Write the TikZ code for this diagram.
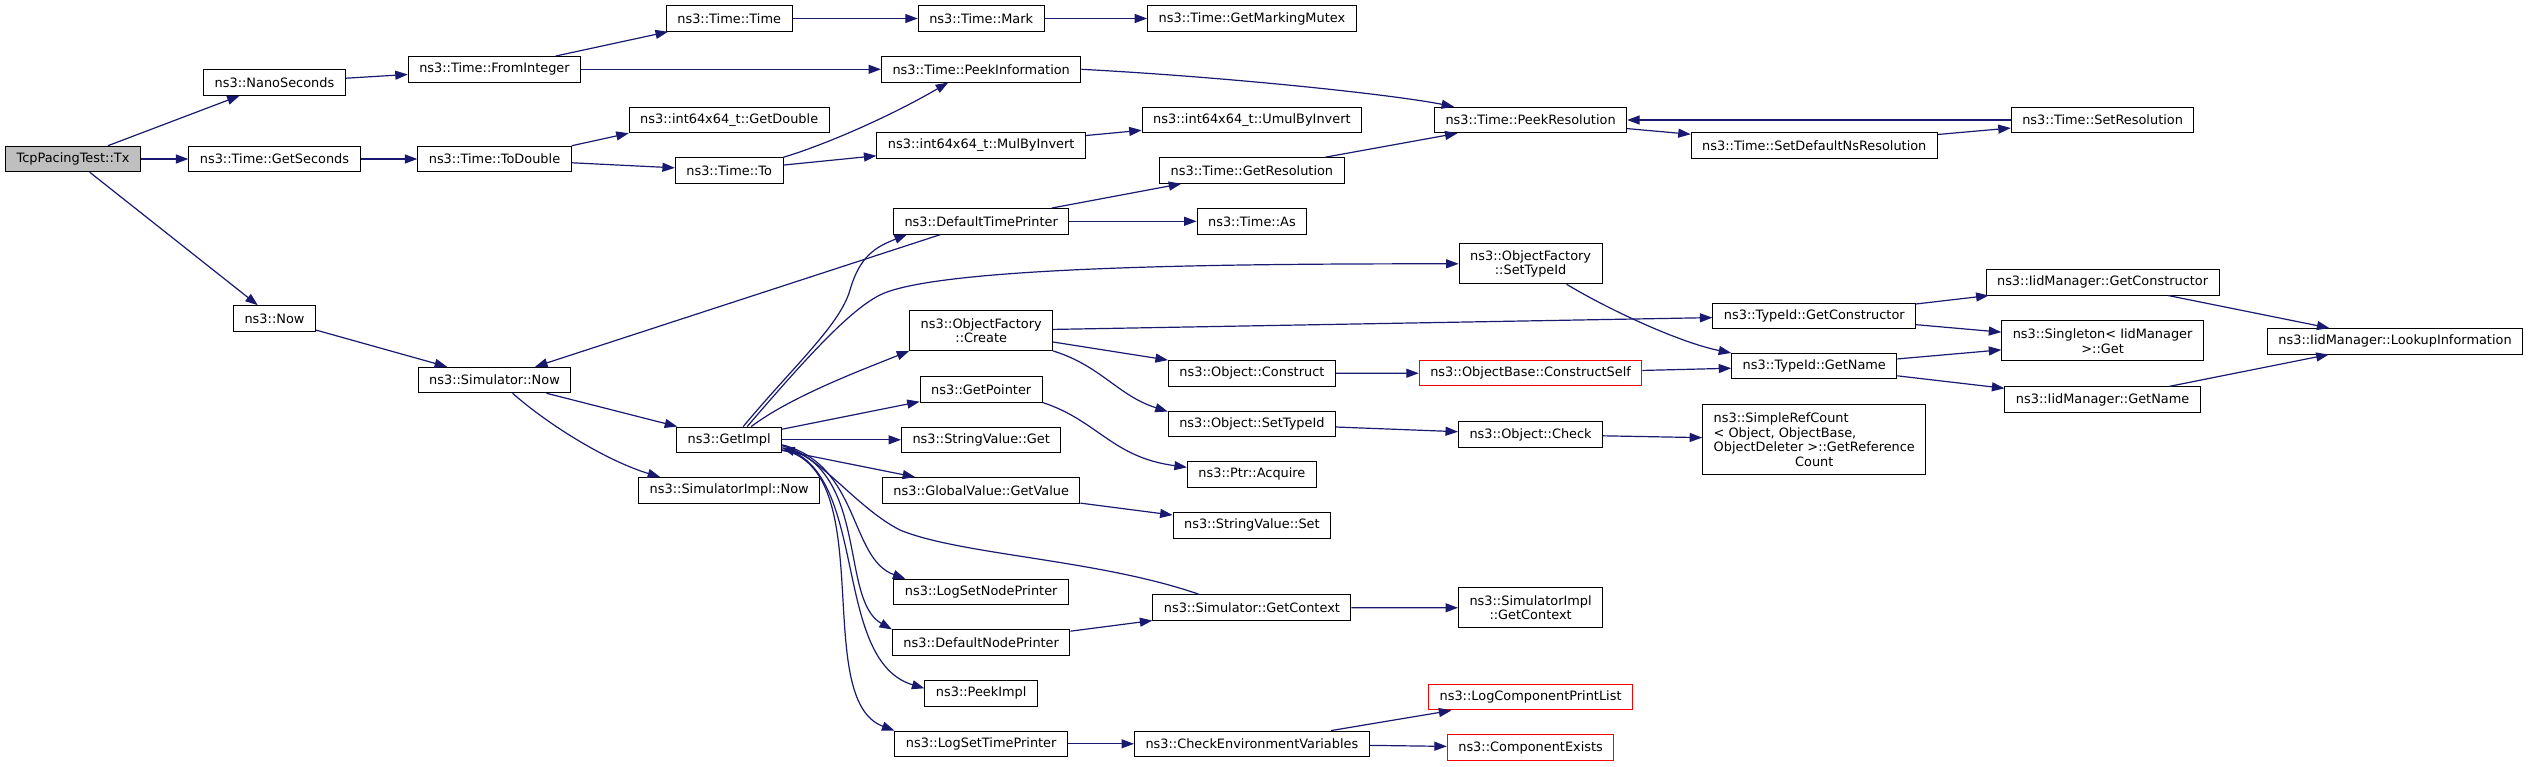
\documentclass[tikz,border=0pt]{standalone}
\usepackage{fontspec}
\setmainfont{DejaVu Sans}
\usepackage{tikz}
\usetikzlibrary{arrows.meta,calc}
\definecolor{edgeblue}{HTML}{191970}
\newlength\refw

\begin{document}
\settowidth{\refw}{\fontsize{12.9}{14.5}\selectfont ObjectDeleter >::GetReference}%
\begin{tikzpicture}[x=1pt, y=-1pt,
		fn/.style={draw=black, fill=white, line width=1pt, minimum height=25.5pt,
			inner xsep=11pt, inner ysep=2pt, align=center,
			font=\fontsize{12.9}{14.5}\selectfont},
		call/.style={draw=edgeblue, line width=1.2pt, -{Triangle[length=12.5pt,width=9pt]}}]
			\path[use as bounding box, fill=white] (0,0) rectangle (2528,767);

			% root and first calls
			\node[fn, fill=black!25] (tx) at (73,159) {TcpPacingTest::Tx};
			\node[fn] (nano) at (274.5,82.5) {ns3::NanoSeconds};
			\node[fn] (getsec) at (274.5,159) {ns3::Time::GetSeconds};
			\node[fn] (now) at (274.5,318.5) {ns3::Now};

			\node[fn] (fromint) at (494.5,69.3) {ns3::Time::FromInteger};
			\node[fn] (todouble) at (494.5,159) {ns3::Time::ToDouble};
			\node[fn] (simnow) at (494.5,380) {ns3::Simulator::Now};

			\node[fn] (timetime) at (729.2,18.5) {ns3::Time::Time};
			\node[fn] (getdouble) at (729.2,120) {ns3::int64x64\_t::GetDouble};
			\node[fn] (timeto) at (729.2,170.5) {ns3::Time::To};
			\node[fn] (getimpl) at (729.2,439.8) {ns3::GetImpl};
			\node[fn] (simimplnow) at (729.2,490.3) {ns3::SimulatorImpl::Now};

			% middle columns
			\node[fn] (mark) at (981.2,18.5) {ns3::Time::Mark};
			\node[fn] (peekinfo) at (981.2,69.3) {ns3::Time::PeekInformation};
			\node[fn] (mulbyinv) at (981.2,145.3) {ns3::int64x64\_t::MulByInvert};
			\node[fn] (dtp) at (981.2,221.3) {ns3::DefaultTimePrinter};
			\node[fn, minimum height=39.5pt] (ofcreate) at (981.2,330.7) {ns3::ObjectFactory\\::Create};
			\node[fn] (getpointer) at (981.2,389.3) {ns3::GetPointer};
			\node[fn] (svget) at (981.2,439.8) {ns3::StringValue::Get};
			\node[fn] (gvgetvalue) at (981.2,490.3) {ns3::GlobalValue::GetValue};
			\node[fn] (logsetnode) at (981.2,592) {ns3::LogSetNodePrinter};
			\node[fn] (defnode) at (981.2,642.7) {ns3::DefaultNodePrinter};
			\node[fn] (peekimpl) at (981.2,693.3) {ns3::PeekImpl};
			\node[fn] (logsettime) at (981.2,743.8) {ns3::LogSetTimePrinter};

			\node[fn] (mutex) at (1251.9,18.5) {ns3::Time::GetMarkingMutex};
			\node[fn] (umul) at (1251.9,120) {ns3::int64x64\_t::UmulByInvert};
			\node[fn] (getres) at (1251.9,170.5) {ns3::Time::GetResolution};
			\node[fn] (timeas) at (1251.9,221.3) {ns3::Time::As};
			\node[fn] (construct) at (1251.9,373.3) {ns3::Object::Construct};
			\node[fn] (objsettid) at (1251.9,423.8) {ns3::Object::SetTypeId};
			\node[fn] (ptracquire) at (1251.9,474.3) {ns3::Ptr::Acquire};
			\node[fn] (svset) at (1251.9,525.3) {ns3::StringValue::Set};
			\node[fn] (simgetctx) at (1251.9,607.7) {ns3::Simulator::GetContext};
			\node[fn] (checkenv) at (1251.9,743.8) {ns3::CheckEnvironmentVariables};

			\node[fn] (peekres) at (1530.6,120) {ns3::Time::PeekResolution};
			\node[fn, minimum height=40pt] (ofsettid) at (1530.6,263.8) {ns3::ObjectFactory\\::SetTypeId};
			\node[fn, draw=red] (cself) at (1530.6,373.2) {ns3::ObjectBase::ConstructSelf};
			\node[fn] (objcheck) at (1530.6,434.5) {ns3::Object::Check};
			\node[fn, minimum height=40pt] (simimplctx) at (1530.6,607.8) {ns3::SimulatorImpl\\::GetContext};
			\node[fn, draw=red] (logcomp) at (1530.6,697.2) {ns3::LogComponentPrintList};
			\node[fn, draw=red] (compexists) at (1530.6,747.5) {ns3::ComponentExists};

			% right columns
			\node[fn] (setdefns) at (1814.3,145.3) {ns3::Time::SetDefaultNsResolution};
			\node[fn] (tidgetctor) at (1814.3,315.8) {ns3::TypeId::GetConstructor};
			\node[fn] (tidgetname) at (1814.3,366.2) {ns3::TypeId::GetName};
			\node[fn, minimum height=70pt] (simpleref) at (1814.3,439.7)
				{\makebox[\refw][l]{ns3::SimpleRefCount}\\\makebox[\refw][l]{< Object, ObjectBase,}\\ObjectDeleter >::GetReference\\Count};

			\node[fn] (setres) at (2102.6,120) {ns3::Time::SetResolution};
			\node[fn] (iidgetctor) at (2102.6,282.3) {ns3::IidManager::GetConstructor};
			\node[fn, minimum height=40pt] (singleton) at (2102.6,341) {ns3::Singleton< IidManager\\ >::Get};
			\node[fn] (iidgetname) at (2102.6,399.7) {ns3::IidManager::GetName};
			\node[fn] (lookup) at (2395,341.3) {ns3::IidManager::LookupInformation};

			% calls from the root
			\draw[call] (tx) -- (nano);
			\draw[call] (tx) -- (getsec);
			\draw[call] (tx) -- (now);

			% time calls
			\draw[call] (nano) -- (fromint);
			\draw[call] (fromint) -- (timetime);
			\draw[call] (fromint) -- (peekinfo);
			\draw[call] (timetime) -- (mark);
			\draw[call] (mark) -- (mutex);
			\draw[call] (peekinfo.east) .. controls +(150,8) and +(-60,-12) .. ($(peekres.north west)+(20,0)$);
			\draw[call] (getsec) -- (todouble);
			\draw[call] (todouble.north east) -- (getdouble.south west);
			\draw[call] (todouble) -- (timeto);
			\draw[call] (timeto.north east) .. controls +(40,-12) and +(-60,35) .. ($(peekinfo.south)+(-33,0)$);
			\draw[call] (timeto) -- (mulbyinv);
			\draw[call] (mulbyinv) -- (umul);
			\draw[call] (getres) -- (peekres);
			\draw[call] (peekres) -- (setdefns);
			\draw[call] (setdefns) -- (setres);
			\draw[call] (setres) -- (peekres);

			% simulator calls
			\draw[call] (now) -- (simnow);
			\draw[call] (simnow) -- (getimpl);
			\draw[call] ($(simnow.south)+(18,0)$) .. controls +(40,35) and +(-50,-15) .. ($(simimplnow.north west)+(22,0)$);
			\draw[call] (dtp) -- (simnow);
			\draw[call] (dtp) -- (getres);
			\draw[call] (dtp) -- (timeas);

			% calls out of GetImpl
			\draw[call] ($(getimpl.north)+(14,0)$) .. controls +(50,-60) and +(-10,35) .. (850,290)
				.. controls +(10,-35) and +(-30,12) .. ($(dtp.south west)+(14,0)$);
			\draw[call] ($(getimpl.north)+(18,0)$) .. controls +(60,-70) and +(-30,15) .. (880,295)
				.. controls +(60,-30) and +(-200,0) .. (ofsettid.west);
			\draw[call] ($(getimpl.north)+(22,0)$) .. controls +(40,-30) and +(-50,20) .. (ofcreate.south west);
			\draw[call] (getimpl) -- (getpointer);
			\draw[call] (getimpl) -- (svget);
			\draw[call] (getimpl) -- (gvgetvalue);
			\draw[call] ($(getimpl.east)+(0,5)$) .. controls +(78,20) and +(-56,-20) .. ($(logsetnode.north west)+(12,0)$);
			\draw[call] ($(getimpl.east)+(0,6)$) .. controls +(88,24) and +(-53,-30) .. (defnode.north west);
			\draw[call] ($(getimpl.east)+(0,8)$) .. controls +(88,22) and +(-94,-28) .. ($(peekimpl.west)+(0,-5)$);
			\draw[call] ($(getimpl.east)+(0,10)$) .. controls +(98,20) and +(-84,-31) .. (logsettime.north west);
			\draw[call] ($(simgetctx.north west)+(47,0)$) .. controls +(-100,-35) and +(60,25) .. (900,530)
				.. controls +(-40,-20) and +(40,12) .. ($(getimpl.east)+(0,8)$);

			% object factory calls
			\draw[call] (ofcreate) -- (tidgetctor);
			\draw[call] (ofcreate) -- (construct);
			\draw[call] (ofcreate.south east) .. controls +(48,15) and +(-50,-16) .. ($(objsettid.north west)+(0,1)$);
			\draw[call] ($(ofsettid.south)+(36,0)$) .. controls +(45,27) and +(-50,-10) .. (tidgetname.north west);
			\draw[call] (construct) -- (cself);
			\draw[call] (cself) -- (tidgetname);
			\draw[call] (tidgetctor) -- (iidgetctor);
			\draw[call] (tidgetctor) -- (singleton);
			\draw[call] (tidgetname) -- (singleton);
			\draw[call] (tidgetname) -- (iidgetname);
			\draw[call] (iidgetctor) -- (lookup);
			\draw[call] (iidgetname) -- (lookup);
			\draw[call] (objsettid) -- (objcheck);
			\draw[call] (objcheck) -- (simpleref);

			% remaining calls
			\draw[call] (getpointer.south east) .. controls +(55,18) and +(-75,-10) .. ($(ptracquire.west)+(0,-7)$);
			\draw[call] (gvgetvalue) -- (svset);
			\draw[call] (defnode) -- (simgetctx);
			\draw[call] (simgetctx) -- (simimplctx);
			\draw[call] (logsettime) -- (checkenv);
			\draw[call] (checkenv) -- (logcomp);
			\draw[call] (checkenv) -- (compexists);
		\end{tikzpicture}
\end{document}
